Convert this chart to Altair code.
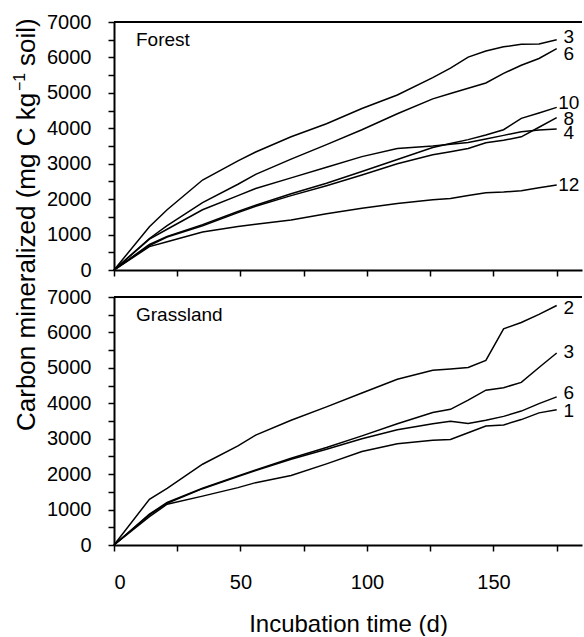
import altair as alt
import pandas as pd

# Sampling days of the incubation
days = [0, 14, 21, 35, 49, 56, 70, 84, 98, 112, 126, 133, 140, 147, 154, 161, 168, 175]

# Forest soils: cumulative carbon mineralized (mg C kg-1 soil)
forest_names = ["3", "6", "10", "8", "4", "12"]
forest_3 = [0, 1220, 1700, 2540, 3080, 3330, 3760, 4130, 4560, 4940, 5430, 5700, 6010, 6180, 6300, 6370, 6380, 6500]
forest_6 = [0, 890, 1250, 1900, 2420, 2700, 3130, 3540, 3960, 4410, 4830, 4980, 5130, 5280, 5550, 5780, 5970, 6250]
forest_10 = [0, 720, 950, 1280, 1650, 1830, 2150, 2450, 2780, 3120, 3460, 3570, 3680, 3810, 3960, 4280, 4430, 4590]
forest_8 = [0, 690, 930, 1250, 1620, 1800, 2100, 2380, 2680, 3000, 3250, 3340, 3430, 3590, 3660, 3760, 4030, 4300]
forest_4 = [0, 870, 1150, 1700, 2100, 2300, 2600, 2900, 3200, 3430, 3500, 3550, 3600, 3700, 3800, 3900, 3950, 3980]
forest_12 = [0, 660, 800, 1070, 1230, 1290, 1410, 1590, 1740, 1880, 1980, 2020, 2100, 2180, 2200, 2240, 2320, 2400]

# Grassland soils
grass_names = ["2", "3", "6", "1"]
grass_2 = [0, 1290, 1600, 2280, 2800, 3100, 3520, 3900, 4290, 4680, 4930, 4970, 5010, 5210, 6100, 6280, 6510, 6760]
grass_3 = [0, 870, 1200, 1600, 1950, 2120, 2450, 2750, 3080, 3420, 3740, 3830, 4090, 4370, 4440, 4590, 5010, 5420]
grass_6 = [0, 850, 1180, 1590, 1930, 2100, 2420, 2700, 3000, 3250, 3420, 3490, 3430, 3520, 3630, 3780, 3990, 4180]
grass_1 = [0, 800, 1150, 1380, 1620, 1760, 1960, 2290, 2640, 2860, 2960, 2980, 3170, 3360, 3390, 3540, 3730, 3820]

forest_series = [forest_3, forest_6, forest_10, forest_8, forest_4, forest_12]
grass_series = [grass_2, grass_3, grass_6, grass_1]

# small vertical nudges (px) so that the end labels do not collide
forest_nudge = {"3": -3, "6": 5, "10": -4, "8": 1, "4": 4, "12": 0}
grass_nudge = {"2": 2, "3": -1, "6": -4, "1": 1}

FONT = "Liberation Sans"
W, H = 468, 248
X_DOMAIN = [0, 185]
Y_DOMAIN = [0, 7000]


def long_frame(names, series):
    rows = []
    for name, vals in zip(names, series):
        for d, v in zip(days, vals):
            rows.append({"series": name, "day": d, "carbon": v})
    return pd.DataFrame(rows)


y_axis = alt.Axis(
    values=list(range(0, 7001, 500)),
    labelExpr="datum.value % 1000 === 0 ? datum.label : ''",
    format="d",
    title=None,
    labelPadding=17,
    labelOverlap=False,
)

x_scale = alt.Scale(domain=X_DOMAIN, nice=False)
y_scale = alt.Scale(domain=Y_DOMAIN, nice=False)


def panel(names, series, nudge, name, bottom):
    lines_df = long_frame(names, series)

    if bottom:
        x_axis = alt.Axis(
            values=list(range(0, 176, 25)),
            labelExpr="datum.value % 50 === 0 ? datum.label : ''",
            labelOverlap=False,
            title="Incubation time (d)",
            labelPadding=21,
            titlePadding=20,
        )
    else:
        x_axis = alt.Axis(values=list(range(0, 176, 25)), labels=False, title=None)

    x_enc = alt.X("day:Q", scale=x_scale, axis=x_axis)
    y_enc = alt.Y("carbon:Q", scale=y_scale, axis=y_axis)

    lines = (
        alt.Chart(lines_df)
        .mark_line(color="black", strokeWidth=1.5)
        .encode(x=x_enc, y=y_enc, detail="series:N", order="day:Q")
    )
    layers = [lines]

    # series labels at the end of each curve
    for n, s in zip(names, series):
        end_df = pd.DataFrame({"series": [n], "day": [days[-1]], "carbon": [s[-1]]})
        layers.append(
            alt.Chart(end_df)
            .mark_text(font=FONT, fontSize=19, color="black", align="center",
                       baseline="middle", dx=12, dy=nudge[n])
            .encode(x=x_enc, y=y_enc, text="series:N")
        )

    frame_top = (
        alt.Chart(pd.DataFrame({"k": [0]}))
        .mark_rule(color="black", strokeWidth=2)
        .encode(x=alt.value(0), x2=alt.value(W), y=alt.value(0))
    )
    tag = (
        alt.Chart(pd.DataFrame({"t": [name]}))
        .mark_text(font=FONT, fontSize=19, color="black", align="left", baseline="middle")
        .encode(x=alt.value(22), y=alt.value(18), text="t:N")
    )
    layers += [frame_top, tag]

    if not bottom:
        # shared y-axis title, built from pieces so the exponent can be raised
        base_x, base_y = -79, 409
        main1 = alt.Chart(pd.DataFrame({"t": ["Carbon mineralized (mg C kg"]})).mark_text(
            font=FONT, fontSize=26, color="black", angle=270, align="left", baseline="alphabetic"
        ).encode(x=alt.value(base_x), y=alt.value(base_y), text="t:N")
        sup = alt.Chart(pd.DataFrame({"t": ["\u22121"]})).mark_text(
            font=FONT, fontSize=16, color="black", angle=270, align="left", baseline="alphabetic",
            dx=340, dy=-10,
        ).encode(x=alt.value(base_x), y=alt.value(base_y), text="t:N")
        main2 = alt.Chart(pd.DataFrame({"t": ["soil)"]})).mark_text(
            font=FONT, fontSize=26, color="black", angle=270, align="left", baseline="alphabetic",
            dx=365,
        ).encode(x=alt.value(base_x), y=alt.value(base_y), text="t:N")
        layers += [main1, sup, main2]

    return alt.layer(*layers).properties(width=W, height=H)


top = panel(forest_names, forest_series, forest_nudge, "Forest", bottom=False)
bottom = panel(grass_names, grass_series, grass_nudge, "Grassland", bottom=True)

chart = (
    alt.vconcat(top, bottom, spacing=27, bounds="flush")
    .properties(padding={"left": 11, "top": 12, "right": 0, "bottom": 0})
    .configure_view(strokeWidth=0, stroke="transparent")
    .configure_axis(
        grid=False,
        domainColor="black",
        domainWidth=2,
        tickColor="black",
        tickWidth=1.5,
        tickSize=6,
        labelFont=FONT,
        labelFontSize=20,
        labelColor="black",
        labelOverlap=False,
        titleFont=FONT,
        titleFontSize=24,
        titleFontWeight="normal",
        titleColor="black",
    )
)

chart.save("out.html", embed_options={"renderer": "svg", "actions": False})
